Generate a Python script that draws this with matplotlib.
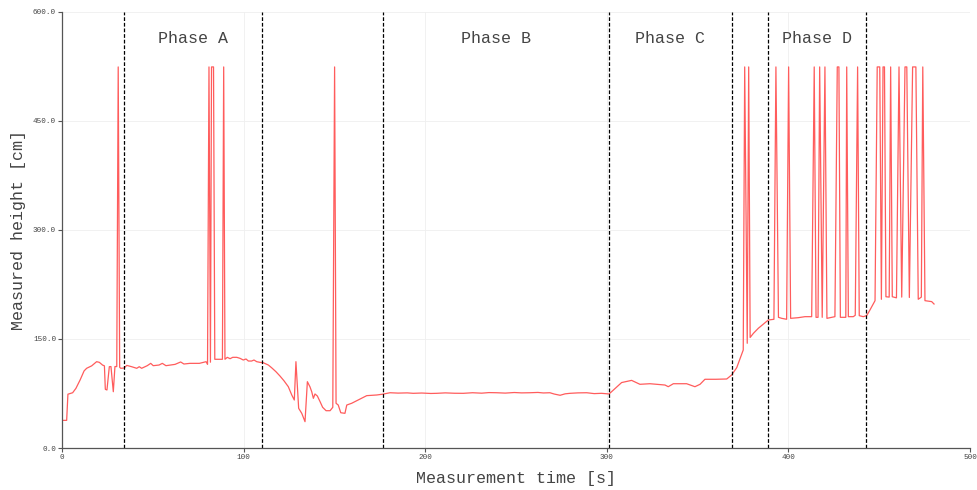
import matplotlib
matplotlib.use("Agg")
import matplotlib.pyplot as plt
from matplotlib.ticker import FormatStrFormatter

# measured height over time (spikes at 524 are sensor dropouts)
time_s = [
    0, 2.4, 3.1, 5.7, 7.5, 9.8, 12, 13.4, 16.2, 18.9, 20.4, 22.2, 23.2, 23.7, 24.6,
    25.9, 26.8, 28.1, 29, 30, 30.8, 31.6, 32.2, 34.1, 35.5, 38.2, 41, 42.4, 43.7,
    46.8, 48.7, 50.1, 53.3, 55.1, 57.1, 62.1, 65.2, 67, 70.3, 75.5, 77.7, 79.2,
    80.0, 80.8, 81.6, 82.2, 83.3, 84, 88.2, 88.9, 89.6, 90.9, 92.4, 93.9, 96.1,
    97.9, 99.7, 101.2, 102.5, 104.3, 105.6, 107.1, 108.9, 110.7, 113.5, 115.3,
    117.7, 119.9, 122.1, 124.5, 126.4, 127.8, 128.7, 130.2, 131.9, 133.7, 135,
    136.4, 137.4, 138.3, 139.2, 140.5, 142, 143.4, 145.3, 147.5, 149, 150, 150.8,
    152, 153.4, 155.7, 156.7, 159.4, 162.2, 164, 167.7, 173.2, 176.5, 180.5, 185,
    190, 193.3, 198, 203, 206.2, 211, 216, 220.9, 226, 231, 235, 239.3, 244, 249,
    253, 257.6, 262, 265, 268.6, 271, 274.2, 277, 279.7, 284, 288.9, 293, 297,
    301.2, 308.1, 313.6, 318.2, 323.7, 328, 332, 333.8, 336.6, 343.9, 348.5,
    351.3, 354, 360, 366, 368.7, 371.5, 375.1, 375.9, 377.3, 378.1, 378.9, 380.7,
    383.4, 386.2, 388.9, 392, 393.1, 394.5, 396.3, 399, 400.1, 401.2, 405.4,
    409.1, 412.8, 414.2, 415.2, 416.3, 417.2, 418.6, 420.1, 421.2, 425.6, 426.9,
    427.8, 428.6, 431.6, 432.1, 433, 435.7, 436.8, 438.1, 439, 441.2, 443.1,
    444.9, 447.7, 448.9, 450.3, 451.2, 452.1, 452.9, 453.7, 455.5, 456.3, 457.2,
    459.5, 460.9, 462.4, 464.2, 465.2, 466.6, 468.4, 470.2, 471.5, 473.2, 474,
    475.2, 478.9, 480.2,
]
height_cm = [
    38, 38, 74, 76, 82, 93.5, 106, 109.6, 113, 118.7, 117.8, 114, 113, 80.7, 79.8,
    111.8, 112, 77.4, 112, 112, 524, 111, 109.6, 110, 113.6, 111.8, 109.6, 111.8,
    109.6, 113.2, 116.4, 113.2, 114.1, 116.4, 113.2, 115, 118.3, 115.5, 116.4,
    116.4, 117.8, 118.7, 115, 524, 118, 524, 524, 122, 122, 524, 122, 124.7,
    122.8, 124.7, 124.7, 123.3, 121, 122.4, 119.6, 119.6, 121, 118.7, 117.8,
    117.3, 114.1, 110.4, 104.9, 99, 92.5, 84.3, 72.9, 66, 118.7, 54.6, 47.7, 36.2,
    91.2, 84.3, 77.4, 68.3, 74.3, 71.5, 63.7, 56, 51.3, 51.3, 56, 524, 61.5, 59.1,
    48.5, 47.7, 59.1, 61.5, 65, 67.4, 72, 72.9, 74, 76, 75.5, 75.8, 75.2, 75.6,
    75.0, 75.2, 75.8, 75.3, 75.2, 76.0, 75.4, 76.2, 76.0, 75.5, 76.3, 75.8, 76.0,
    76.4, 75.7, 76.0, 74.2, 72.5, 74.5, 75.2, 75.8, 76.0, 74.8, 75.2, 74.3, 90,
    93, 87.6, 88.4, 87.5, 86.6, 84.3, 88.4, 88.4, 84.3, 87.6, 94.5, 94.5, 94.9,
    100.4, 110.4, 134.8, 524, 144, 524, 152, 157.7, 164.6, 170.5, 176, 177, 524,
    179.7, 178.3, 177, 524, 178.3, 179.2, 180.6, 180.6, 524, 179.7, 179.7, 524,
    179.7, 524, 178.3, 180.6, 524, 524, 179.7, 179.7, 524, 180.6, 180.6, 182.5,
    524, 182, 180.6, 182, 189.8, 202.6, 524, 524, 204.5, 524, 524, 208, 207.5,
    524, 208, 206.5, 524, 207.5, 524, 524, 207, 524, 524, 204.5, 207.5, 524,
    202.6, 201.3, 198,
]

phase_bounds = [34.2, 110.2, 176.5, 301.3, 368.7, 388.9, 442.5]
phase_names = ["Phase A", "Phase B", "Phase C", "Phase D"]
phase_spans = [(34.2, 110.2), (176.5, 301.3), (301.3, 368.7), (388.9, 442.5)]

mono = "Liberation Mono"

fig = plt.figure(figsize=(9.78, 4.9), dpi=100)
ax = fig.add_axes([0.0637, 0.0857, 0.9281, 0.8905])

ax.plot(time_s, height_cm, color="#ff5c5c", lw=0.9)

for b in phase_bounds:
    ax.axvline(b, color="black", lw=0.9, ls=(0, (3, 1.5)))

for name, (a, b) in zip(phase_names, phase_spans):
    ax.text((a + b) / 2, 563, name, ha="center", va="center",
            fontsize=12, family=mono, color="#444444")

ax.set_xlim(0, 500)
ax.set_ylim(0, 600)
ax.set_xticks([0, 100, 200, 300, 400, 500])
ax.set_yticks([0, 150, 300, 450, 600])
ax.yaxis.set_major_formatter(FormatStrFormatter("%.1f"))
ax.grid(True, color="#efefef", lw=0.6)
ax.set_axisbelow(True)

for s in ["top", "right"]:
    ax.spines[s].set_visible(False)
for s in ["left", "bottom"]:
    ax.spines[s].set_color("#555555")
    ax.spines[s].set_linewidth(0.9)
ax.tick_params(colors="#555555", labelcolor="#444444", length=3, width=0.8,
               labelsize=5.5, pad=1.5)
for lbl in ax.get_xticklabels() + ax.get_yticklabels():
    lbl.set_family(mono)

ax.set_xlabel("Measurement time [s]", family=mono, fontsize=12,
              color="#444444", labelpad=7)
ax.set_ylabel("Measured height [cm]", family=mono, fontsize=12,
              color="#444444", labelpad=5)

fig.savefig("out.png", dpi=100)
